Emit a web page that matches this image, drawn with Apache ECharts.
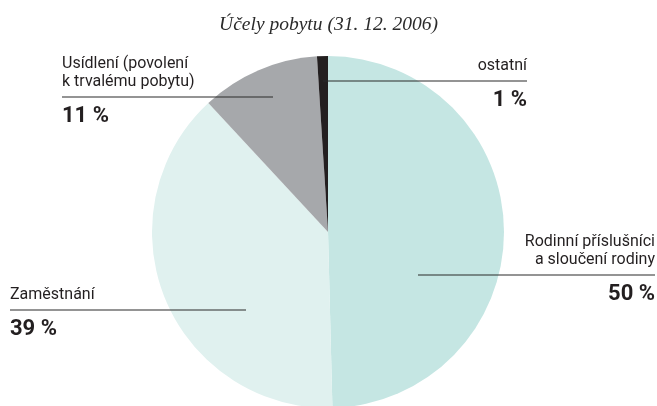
<!DOCTYPE html>
<html>
<head>
<meta charset="utf-8">
<title>Účely pobytu</title>
<script src="https://cdn.jsdelivr.net/npm/echarts@6/dist/echarts.min.js"></script>
<style>
	html, body { margin: 0; padding: 0; background: #fff; }
	#chart { width: 657px; height: 406px; }
</style>
</head>
<body>
<div id="chart"></div>
<script>
var titleText = 'Účely pobytu (31. 12. 2006)';
var categories = [
	'Rodinní příslušníci\na sloučení rodiny',
	'Zaměstnání',
	'Usídlení (povolení\nk trvalému pobytu)',
	'ostatní'
];
var shares = [49.6, 38.5, 10.9, 1.0];
var colors = ['#c5e6e3', '#e0f1ef', '#a6a8ab', '#231f20'];

// where each label sits: text anchor x, rule y, inner end of the rule
var labelPlaces = [
	{ align: 'right', x: 655, lineY: 275, innerX: 418 },
	{ align: 'left', x: 10, lineY: 310, innerX: 246 },
	{ align: 'left', x: 62, lineY: 97, innerX: 273 },
	{ align: 'right', x: 527, lineY: 81, innerX: 323 }
];

var chart = echarts.init( document.getElementById( 'chart' ) );

// the rule under each name is a rich text piece, so it stays above the slices
var pieData = categories.map( function ( name, i ) {
	var place = labelPlaces[i];
	return {
		name: name,
		value: shares[i],
		itemStyle: { color: colors[i] },
		label: {
			rich: {
				hr: {
					width: Math.abs( place.x - place.innerX ),
					height: 0,
					lineHeight: 12,
					borderColor: '#2b2b2b',
					borderWidth: 1.2
				}
			}
		}
	};
} );

var option = {
	animation: false,
	title: {
		text: titleText,
		left: 'center',
		top: 10,
		textStyle: {
			fontFamily: 'Liberation Serif',
			fontStyle: 'italic',
			fontWeight: 'normal',
			fontSize: 19.5,
			color: '#2b2b2b'
		}
	},
	series: [
		{
			type: 'pie',
			center: [328, 232],
			radius: 176,
			startAngle: 90,
			clockwise: true,
			avoidLabelOverlap: false,
			silent: true,
			data: pieData,
			itemStyle: { borderWidth: 0 },
			label: {
				show: true,
				position: 'outer',
				formatter: function ( p ) {
					return '{n|' + p.name + '}\n{hr|}\n{v|' + Math.round( p.value ) + ' %}';
				},
				rich: {
					n: { fontFamily: 'Roboto', fontSize: 16, lineHeight: 18, color: '#231f20' },
					v: { fontFamily: 'Roboto', fontSize: 22, fontWeight: 'bold', lineHeight: 26, color: '#231f20' }
				}
			},
			labelLine: { show: false },
			labelLayout: function ( params ) {
				var place = labelPlaces[params.dataIndex];
				var nameLines = categories[params.dataIndex].split( '\n' ).length;
				return {
					x: place.x,
					y: place.lineY - 6 - nameLines * 18,
					align: place.align,
					verticalAlign: 'top'
				};
			}
		}
	]
};

chart.setOption( option );
</script>
</body>
</html>
